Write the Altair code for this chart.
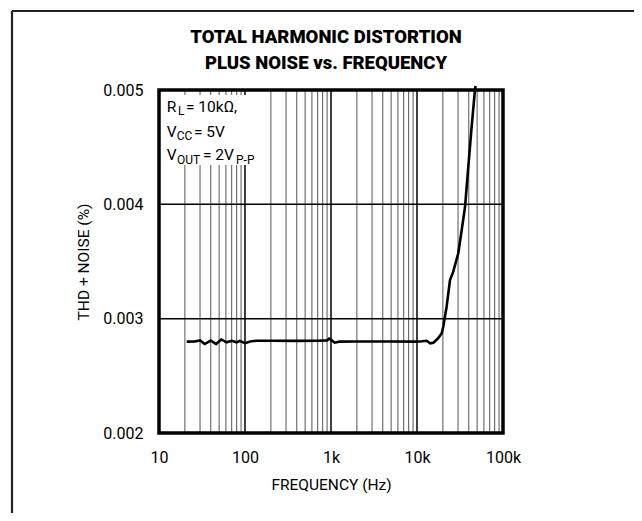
import altair as alt
import pandas as pd

# ---- data ----
freq = [21, 26, 30, 34, 40, 46, 53, 61, 70, 80, 87, 100, 115, 135, 200, 400, 700, 900, 950,
        1000, 1100, 1250, 2000, 5000, 10000, 11500, 13000, 14200, 15500, 17600, 19400,
        20200, 22100, 24200, 26400, 30200, 33100, 36200, 39500, 43200, 47200, 48000]
thd = [0.002799, 0.002800, 0.002809, 0.002778, 0.002809, 0.002778, 0.002818, 0.002793,
       0.002806, 0.002793, 0.002806, 0.002786, 0.002800, 0.002807, 0.002807, 0.002806,
       0.002807, 0.002810, 0.002826, 0.002818, 0.002790, 0.002799, 0.002800, 0.002800,
       0.002799, 0.002802, 0.002807, 0.002785, 0.002790, 0.002828, 0.002872, 0.002930,
       0.003105, 0.003338, 0.003411, 0.003572, 0.003776, 0.003979, 0.004329, 0.004679,
       0.005000, 0.005035]

x_ticks = [10, 100, 1000, 10000, 100000]
x_tick_labels = ["10", "100", "1k", "10k", "100k"]
y_ticks = [0.002, 0.003, 0.004, 0.005]
minor_grid = [m * d for d in [10, 100, 1000, 10000] for m in range(2, 10)]
major_grid = [100, 1000, 10000]
h_grid = [0.003, 0.004]

title_lines = ["TOTAL HARMONIC DISTORTION", "PLUS NOISE vs. FREQUENCY"]
x_title = "FREQUENCY (Hz)"
y_title = "THD + NOISE (%)"

FONT = "Roboto, Liberation Sans, sans-serif"
W, H = 344, 343

label_expr = " : ".join(
    [f"datum.value == {v} ? '{l}'" for v, l in zip(x_ticks, x_tick_labels)] + ["''"]
)

xscale = alt.Scale(type="log", domain=[10, 100000], nice=False)
yscale = alt.Scale(domain=[0.002, 0.005], nice=False, zero=False)

xaxis = alt.Axis(
    values=x_ticks, labelExpr=label_expr, grid=False, ticks=False, domain=False,
    labelFlush=False, labelOverlap=False, labelFont=FONT, labelFontSize=16,
    labelColor="black", labelBaseline="alphabetic", labelPadding=29,
    title=x_title, titleFont=FONT, titleFontSize=15.5, titleFontWeight="normal",
    titleColor="black", titleBaseline="alphabetic", titleY=56,
)
yaxis = alt.Axis(
    values=y_ticks, format=".3f", grid=False, ticks=False, domain=False,
    labelFlush=False, labelOverlap=False, labelFont=FONT, labelFontSize=16,
    labelColor="black", labelPadding=16,
    title=y_title, titleFont=FONT, titleFontSize=15.5, titleFontWeight="normal",
    titleColor="black", titleX=-76, titleY=H / 2, titleAngle=-90,
    titleAlign="center", titleBaseline="middle",
)

df = pd.DataFrame({"freq": freq, "thd": thd})
one = pd.DataFrame({"a": [0]})

# gridlines
minor = alt.Chart(pd.DataFrame({"freq": minor_grid})).mark_rule(
    color="#555", strokeWidth=1
).encode(x=alt.X("freq:Q", scale=xscale, axis=xaxis))
major = alt.Chart(pd.DataFrame({"freq": major_grid})).mark_rule(
    color="#000", strokeWidth=1.5
).encode(x=alt.X("freq:Q", scale=xscale, axis=xaxis))
hg = alt.Chart(pd.DataFrame({"thd": h_grid})).mark_rule(
    color="#000", strokeWidth=1.5
).encode(y=alt.Y("thd:Q", scale=yscale, axis=yaxis))

# white box behind annotation
box = alt.Chart(one).mark_rect(color="white").encode(
    x=alt.value(1), x2=alt.value(106), y=alt.value(5), y2=alt.value(75)
)

line = alt.Chart(df).mark_line(color="black", strokeWidth=2.6, clip=False).encode(
    x=alt.X("freq:Q", scale=xscale, axis=xaxis),
    y=alt.Y("thd:Q", scale=yscale, axis=yaxis),
)

border = alt.Chart(one).mark_rect(fill=None, stroke="black", strokeWidth=3.5).encode(
    x=alt.value(0), x2=alt.value(W), y=alt.value(0), y2=alt.value(H)
)

# outer frame (top and left edges)
frame_top = alt.Chart(one).mark_rule(color="#222", strokeWidth=2.2).encode(
    x=alt.value(-147), x2=alt.value(500), y=alt.value(-79)
)
frame_left = alt.Chart(one).mark_rule(color="#222", strokeWidth=2.2).encode(
    x=alt.value(-147), y=alt.value(-79), y2=alt.value(460)
)


def txt(s, x, y, size, weight="normal", align="left"):
    return alt.Chart(one).mark_text(
        text=s, font=FONT, fontSize=size, fontWeight=weight, align=align,
        baseline="alphabetic", color="black",
    ).encode(x=alt.value(x), y=alt.value(y))


titles = [
    txt(title_lines[0], 167, -46.7, 18.5, 900, "center"),
    txt(title_lines[1], 167, -20.7, 18.5, 900, "center"),
]

ann = [
    txt("R", 7.7, 21.7, 15.5), txt("L", 19, 25, 12), txt("= 10kΩ,", 27, 21.7, 15.5),
    txt("V", 7.7, 46.7, 15.5), txt("CC", 17.7, 50, 12), txt("= 5V", 35, 46.7, 15.5),
    txt("V", 7.7, 70, 15.5), txt("OUT", 18, 73.5, 12), txt("= 2V", 44, 70, 15.5),
    txt("P-P", 77, 73.5, 12),
]

chart = alt.layer(
    minor, major, hg, box, line, border, frame_top, frame_left, *titles, *ann
).properties(
    width=W, height=H,
    autosize=alt.AutoSizeParams(type="none"),
    padding={"left": 151, "top": 82, "right": 131, "bottom": 80},
).configure_view(stroke=None)

chart.save("out.html", embed_options={"renderer": "svg", "actions": False})
